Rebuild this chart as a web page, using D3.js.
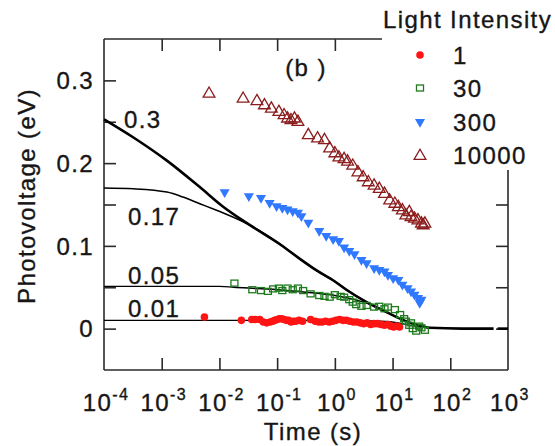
<!DOCTYPE html>
<html><head><meta charset="utf-8">
<script src="https://cdn.jsdelivr.net/npm/d3@7"></script>
<style>
body{margin:0;background:#fff;}
text{font-family:"Liberation Sans",Arial,sans-serif;fill:#161616;stroke:#161616;stroke-width:0.35px;letter-spacing:1.4px;}
</style></head>
<body><svg id="c" width="555" height="446"></svg>
<script>
// ---- data (log10 of time in s, photovoltage in eV) ----
const seriesNames = ["1","30","300","10000"];
const xTickExps = [-4,-3,-2,-1,0,1,2,3];
const yTickLabels = [0,0.1,0.2,0.3];
const curveLabels = ["0.3","0.17","0.05","0.01"];

const redLogT = [-2.26,-1.62,-1.44,-1.38,-1.30,-1.24,-1.18,-1.12,-1.08,-1.04,-1.00,-0.96,-0.92,-0.88,-0.84,-0.80,-0.76,-0.72,-0.68,-0.62,-0.56,-0.42,-0.34,-0.28,-0.22,-0.16,-0.10,-0.04,0.02,0.08,0.14,0.20,0.26,0.32,0.38,0.44,0.50,0.56,0.62,0.68,0.74,0.80,0.86,0.92,0.97,1.02,1.07,1.12];
const redV   = [0.014,0.010,0.011,0.011,0.011,0.008,0.007,0.008,0.009,0.010,0.011,0.012,0.012,0.011,0.010,0.010,0.008,0.009,0.009,0.010,0.009,0.011,0.009,0.008,0.008,0.009,0.008,0.009,0.010,0.011,0.010,0.010,0.009,0.008,0.008,0.007,0.006,0.007,0.005,0.006,0.006,0.005,0.004,0.005,0.003,0.002,0.003,0.002];

const greenLogT = [-1.74,-1.43,-1.28,-1.16,-1.07,-0.97,-0.91,-0.82,-0.73,-0.64,-0.55,-0.42,-0.27,-0.18,-0.09,0.00,0.10,0.16,0.25,0.31,0.37,0.46,0.55,0.68,0.77,0.86,0.92,1.04,1.13,1.20,1.23,1.29,1.32,1.35,1.41,1.46,1.50,1.56];
const greenV   = [0.055,0.047,0.046,0.045,0.048,0.049,0.046,0.049,0.047,0.049,0.046,0.042,0.040,0.039,0.038,0.041,0.039,0.038,0.035,0.032,0.029,0.027,0.028,0.026,0.027,0.024,0.026,0.023,0.017,0.012,0.009,0.004,0.007,0.000,-0.003,0.003,0.001,-0.002];

const blueLogT = [-1.91,-1.49,-1.28,-1.13,-1.01,-0.91,-0.82,-0.73,-0.64,-0.58,-0.46,-0.27,-0.15,-0.03,0.07,0.16,0.25,0.34,0.46,0.55,0.68,0.77,0.86,0.92,1.01,1.10,1.17,1.26,1.32,1.38,1.44,1.47,1.50];
const blueV   = [0.165,0.160,0.158,0.152,0.148,0.146,0.144,0.142,0.140,0.136,0.128,0.118,0.112,0.108,0.106,0.098,0.094,0.090,0.083,0.079,0.073,0.071,0.069,0.065,0.061,0.059,0.053,0.049,0.045,0.041,0.037,0.031,0.035];

const brownLogT = [-2.18,-1.59,-1.35,-1.22,-1.10,-0.97,-0.88,-0.82,-0.76,-0.70,-0.64,-0.46,-0.30,-0.18,-0.09,0.00,0.07,0.16,0.22,0.31,0.40,0.49,0.58,0.68,0.77,0.86,0.95,1.04,1.10,1.17,1.23,1.29,1.32,1.38,1.44,1.50,1.53,1.56];
const brownV   = [0.285,0.279,0.276,0.271,0.267,0.263,0.259,0.255,0.253,0.255,0.251,0.235,0.231,0.229,0.219,0.213,0.208,0.206,0.203,0.198,0.190,0.184,0.178,0.174,0.170,0.164,0.156,0.152,0.148,0.144,0.138,0.142,0.136,0.134,0.132,0.128,0.126,0.128];

// model curves
const c03LogT = [-4,-3.49,-2.91,-2.34,-1.93,-1.47,-0.89,-0.6,-0.31,0,0.2,0.55,0.92,1.23,1.5,1.65,2.2,2.75];
const c03V    = [0.253,0.231,0.203,0.171,0.147,0.125,0.099,0.084,0.070,0.057,0.047,0.032,0.019,0.009,0.003,0.001,0.000,0.000];
const c017LogT = [-4,-3.49,-2.91,-2.63,-2.34,-2.05,-1.87,-1.47,-0.89,-0.6,-0.31,0,0.2,0.55];
const c017V    = [0.170,0.169,0.165,0.159,0.151,0.143,0.138,0.125,0.099,0.084,0.070,0.057,0.047,0.032];
const c005LogT = [-4,-2.0,-1.75,-1.0,-0.5,0,0.4,0.7,0.92,1.23,1.5];
const c005V    = [0.051,0.051,0.050,0.047,0.044,0.040,0.034,0.027,0.019,0.009,0.003];
const c001LogT = [-4,0,0.8,1.1,1.3,1.5];
const c001V    = [0.010,0.010,0.009,0.007,0.004,0.002];
const tailLogT = [2.82,3.0];
const tailV    = [0.000,0.000];

// ---- layout ----
const svg = d3.select("#c");
const L=104, R=508, T=39, B=370;
const x = d3.scaleLog().domain([1e-4,1e3]).range([L,R]);
const y = d3.scaleLinear().domain([-0.05,0.35]).range([B,T]);
const X = lt => x(Math.pow(10,lt));
const colors = {r:"#ff1414", g:"#1d7a1d", b:"#2f78ff", br:"#8b1c1c"};

// frame
const fr = svg.append("g").attr("stroke","#2a2a2a").attr("stroke-width",1.6).attr("fill","none");
fr.append("line").attr("x1",L).attr("x2",L).attr("y1",T).attr("y2",B);
fr.append("line").attr("x1",L).attr("x2",R).attr("y1",B).attr("y2",B);
fr.append("line").attr("x1",L).attr("x2",382).attr("y1",T).attr("y2",T);
fr.append("line").attr("x1",R).attr("x2",R).attr("y1",170).attr("y2",B);

// ticks via axes
function clean(g){g.select(".domain").remove(); g.selectAll("line").attr("stroke","#2a2a2a").attr("stroke-width",1.6); g.selectAll("text").remove();}
svg.append("g").attr("transform",`translate(0,${B})`)
  .call(d3.axisBottom(x).tickValues([1e-3,1e-2,1e-1,1,1e1,1e2]).tickSize(-12).tickFormat("")).call(clean);
svg.append("g").attr("transform",`translate(0,${T})`)
  .call(d3.axisTop(x).tickValues([1e-3,1e-2,1e-1,1]).tickSize(-12).tickFormat("")).call(clean);
svg.append("g").attr("transform",`translate(${L},0)`)
  .call(d3.axisLeft(y).tickValues([0,0.05,0.1,0.15,0.2,0.25,0.3]).tickSize(-12).tickFormat("")).call(clean);
svg.append("g").attr("transform",`translate(${R},0)`)
  .call(d3.axisRight(y).tickValues([0,0.05,0.1,0.15]).tickSize(-12).tickFormat("")).call(clean);

// tick labels
xTickExps.forEach(e=>{
  const t = svg.append("text").attr("x",x(Math.pow(10,e))+2).attr("y",411).attr("text-anchor","middle").attr("font-size",24);
  t.append("tspan").text("10");
  t.append("tspan").attr("dy",-11).attr("font-size",16).text(e);
});
yTickLabels.forEach(v=>{
  svg.append("text").attr("x",94).attr("y",y(v)).attr("dy","0.36em").attr("text-anchor","end").attr("font-size",24).text(v===0?"0":String(v));
});
svg.append("text").attr("x",313).attr("y",440).attr("text-anchor","middle").attr("font-size",24).text("Time (s)");
svg.append("text").attr("transform","translate(35,196) rotate(-90)").attr("text-anchor","middle").attr("font-size",24).text("Photovoltage (eV)");
svg.append("text").attr("x",306).attr("y",76).attr("text-anchor","middle").attr("font-size",24).text("(b )");

// curves
const line = d3.line().x(d=>X(d[0])).y(d=>y(d[1])).curve(d3.curveMonotoneX);
const zip = (a,b)=>a.map((v,i)=>[v,b[i]]);
[[c001LogT,c001V,1.4],[c005LogT,c005V,1.4],[c017LogT,c017V,1.6],[c03LogT,c03V,2.6],[tailLogT,tailV,2.6]].forEach(([a,b,w])=>{
  svg.append("path").attr("d",line(zip(a,b))).attr("fill","none").attr("stroke","#000").attr("stroke-width",w);
});
// curve labels
[[124,119],[128,216],[128,275],[128,308]].forEach((p,i)=>{
  svg.append("text").attr("x",p[0]).attr("y",p[1]).attr("dy","0.36em").attr("font-size",24).text(curveLabels[i]);
});

// markers
const triDown = d3.symbol().type(d3.symbolTriangle).size(44);
const triUp = d3.symbol().type(d3.symbolTriangle).size(60);
function drawRed(g,px,py){g.append("circle").attr("cx",px).attr("cy",py).attr("r",3.8).attr("fill",colors.r);}
function drawGreen(g,px,py){g.append("rect").attr("x",px-3.5).attr("y",py-3).attr("width",7).attr("height",6).attr("fill","none").attr("stroke",colors.g).attr("stroke-width",1.3);}
function drawBlue(g,px,py){g.append("path").attr("d",triDown()).attr("transform",`translate(${px},${py}) rotate(180)`).attr("fill",colors.b);}
function drawBrown(g,px,py){g.append("path").attr("d",triUp()).attr("transform",`translate(${px},${py+1})`).attr("fill","none").attr("stroke",colors.br).attr("stroke-width",1.3);}

const mg = svg.append("g");
brownLogT.forEach((lt,i)=>drawBrown(mg,X(lt),y(brownV[i])));
blueLogT.forEach((lt,i)=>drawBlue(mg,X(lt),y(blueV[i])));
redLogT.forEach((lt,i)=>drawRed(mg,X(lt),y(redV[i])));
greenLogT.forEach((lt,i)=>drawGreen(mg,X(lt),y(greenV[i])));

// legend
svg.append("text").attr("x",383).attr("y",28).attr("font-size",24).text("Light Intensity");
const drawers=[drawRed,drawGreen,drawBlue,drawBrown];
const legY=[55,88,122,155];
seriesNames.forEach((n,i)=>{
  drawers[i](svg,420,legY[i]);
  svg.append("text").attr("x",453).attr("y",legY[i]).attr("dy","0.36em").attr("font-size",24).text(n);
});
</script></body></html>
